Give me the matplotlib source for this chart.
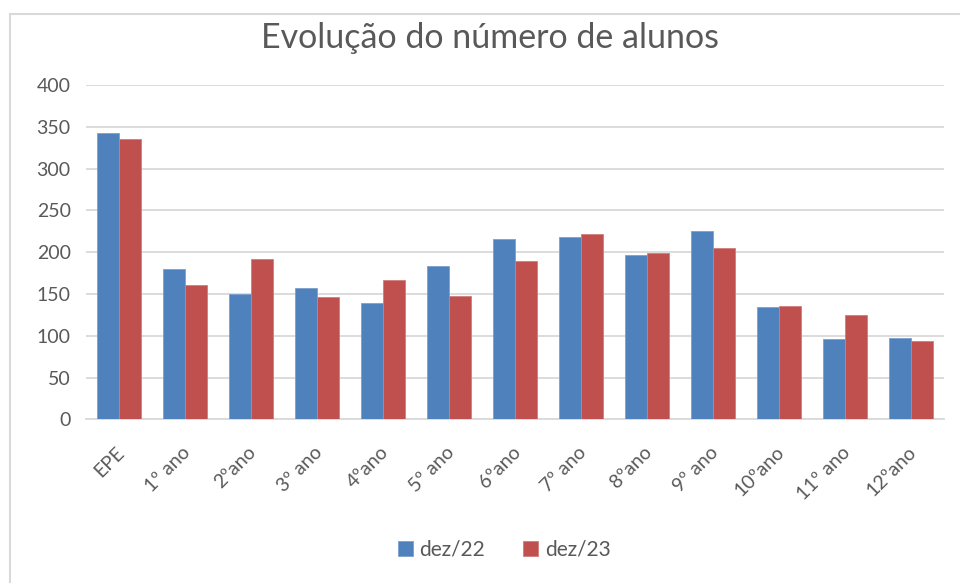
import matplotlib
matplotlib.use("Agg")
import matplotlib.pyplot as plt
from matplotlib.lines import Line2D
from matplotlib.patches import Patch
import matplotlib.transforms as mtransforms
import numpy as np

categories = ["EPE", "1º ano", "2ºano", "3º ano", "4ºano", "5º ano", "6ºano",
              "7º ano", "8ºano", "9º ano", "10ºano", "11º ano", "12ºano"]
dez22 = [343, 180, 150, 157, 139, 184, 216, 218, 197, 225, 134, 96, 97]
dez23 = [335, 161, 192, 146, 167, 148, 190, 222, 199, 205, 136, 125, 94]
series_names = ["dez/22", "dez/23"]
title = "Evolução do número de alunos"
yticks = [0, 50, 100, 150, 200, 250, 300, 350, 400]

plt.rcParams['font.family'] = ['Lato', 'DejaVu Sans']
TXT = '#595959'
BLUE = '#4F81BD'
RED = '#C0504D'
GRID = '#D9D9D9'

W, H = 960, 583
fig = plt.figure(figsize=(W / 100, H / 100), dpi=100)

# chart border (partially visible)
fig.add_artist(Line2D([9.5 / W, 9.5 / W], [0, 1 - 13.5 / H], color=GRID, lw=1.5,
                      transform=fig.transFigure))
fig.add_artist(Line2D([9.5 / W, 1], [1 - 13.5 / H, 1 - 13.5 / H], color=GRID, lw=1.5,
                      transform=fig.transFigure))

left, right, top, bottom = 86, 944, 85, 419.3
ax = fig.add_axes([left / W, 1 - bottom / H, (right - left) / W, (bottom - top) / H])

x = np.arange(len(categories))
bw = 1 / 3
ax.bar(x - bw / 2, dez22, width=bw, color=BLUE, edgecolor='#7A9FCF', linewidth=0.6, zorder=3)
ax.bar(x + bw / 2, dez23, width=bw, color=RED, edgecolor='#D17E7C', linewidth=0.6, zorder=3)

ax.set_xlim(-0.5, len(categories) - 0.5)
ax.set_ylim(0, 400)
ax.set_yticks(yticks)
ax.set_yticklabels([str(v) for v in yticks])
ax.yaxis.grid(True, color=GRID, linewidth=1.3, zorder=0)
ax.set_axisbelow(True)
for s in ['top', 'right', 'left']:
    ax.spines[s].set_visible(False)
ax.spines['bottom'].set_color(GRID)
ax.spines['bottom'].set_linewidth(1.3)
ax.tick_params(axis='y', length=0, pad=11, labelsize=14, labelcolor=TXT)
ax.tick_params(axis='x', length=0, labelsize=14, labelcolor=TXT)

ax.set_xticks(x)
ax.set_xticklabels(categories, rotation=45, ha='right', va='top', rotation_mode='anchor')
offset = mtransforms.ScaledTranslation(-2.5 / 72, -14 / 72, fig.dpi_scale_trans)
for lbl in ax.get_xticklabels():
    lbl.set_transform(lbl.get_transform() + offset)

fig.text(490 / W, 1 - 38 / H, title, ha='center', va='center', fontsize=24.5, color=TXT)

handles = [Patch(facecolor=BLUE, edgecolor='#7A9FCF', linewidth=0.6),
           Patch(facecolor=RED, edgecolor='#D17E7C', linewidth=0.6)]
leg = fig.legend(handles, series_names, loc='center', bbox_to_anchor=(504 / W, 1 - 550 / H),
                 ncol=2, frameon=False, fontsize=15, handlelength=0.75, handleheight=0.75,
                 handletextpad=0.3, columnspacing=1.8, labelcolor=TXT)

fig.savefig('out.png', dpi=100, facecolor='white')
